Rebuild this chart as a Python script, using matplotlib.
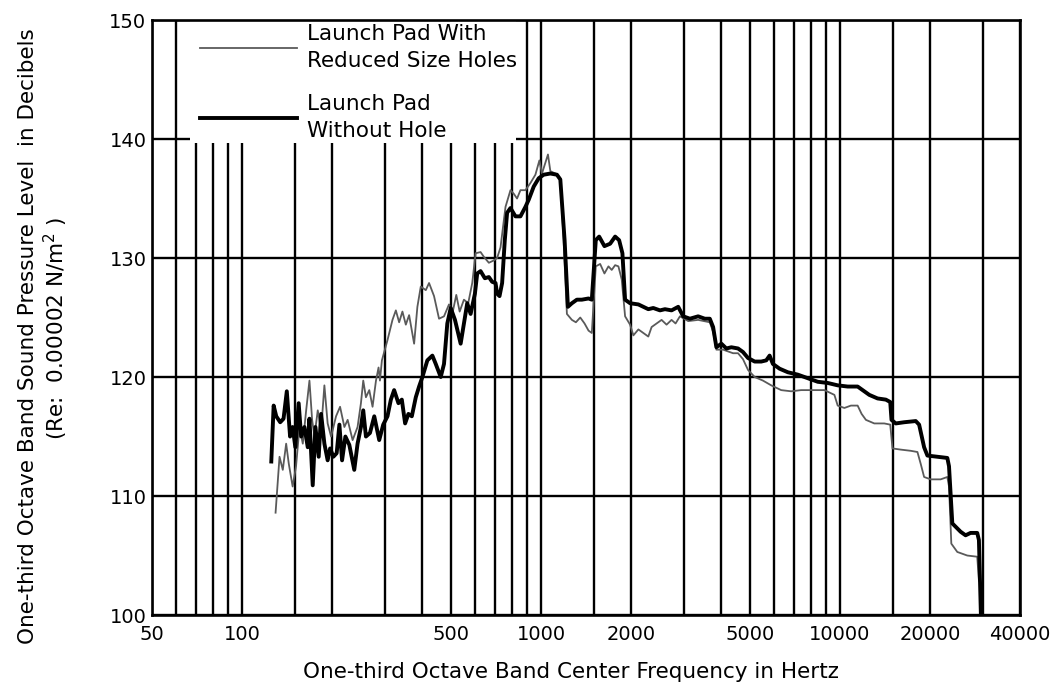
import matplotlib
matplotlib.use("Agg")
import matplotlib.pyplot as plt
from matplotlib.patches import Rectangle
from matplotlib.ticker import FixedLocator, FixedFormatter, NullLocator

# launch pad without hole (thick line): centre frequency in Hz, level in dB
freq_no_hole = [125.3, 127.6, 130.2, 134.2, 137.7, 141.2, 144.8, 147.7, 150.8, 154.7,
                157.7, 161.8, 165.9, 168.1, 172.4, 176.0, 180.5, 183.9, 188.6, 193.4,
                197.1, 202.1, 207.3, 211.7, 216.1, 221.7, 228.5, 237.4, 243.5, 249.9,
                254.4, 259.7, 267.9, 276.9, 287.7, 296.7, 306.6, 314.7, 322.7, 333.6,
                342.4, 351.2, 360.2, 369.8, 381.3, 391.1, 401.2, 416.8, 433.2, 444.6,
                462.0, 473.8, 486.0, 498.9, 515.6, 538.6, 552.4, 566.6, 581.6, 601.1,
                611.9, 627.9, 649.0, 669.3, 686.5, 704.6, 713.3, 726.6, 741.3, 756.7,
                770.3, 790.5, 821.5, 853.6, 887.1, 909.8, 945.4, 982.4, 1020.8, 1074.7,
                1130.6, 1160.4, 1199.4, 1230.2, 1268.6, 1318.2, 1369.8, 1442, 1479, 1525,
                1565, 1630, 1703, 1770, 1825, 1872, 1911, 1986, 2117, 2200,
                2285, 2374, 2500, 2598, 2733, 2877, 2990, 3148, 3354, 3531,
                3669, 3764, 3860, 4011, 4168, 4332, 4560, 4738, 4924, 5184,
                5454, 5667, 5816, 5965, 6280, 6693, 7227, 7804, 8426, 9099,
                9825, 10608, 11455, 11903, 12530, 13355, 14234, 14723, 14870, 15369,
                16393, 17919, 18393, 19114, 19603, 21167, 22855, 23154, 23749, 25313,
                26303, 27333, 28774, 29151, 29600]
db_no_hole = [112.9, 117.6, 116.7, 116.2, 116.5, 118.8, 115.0, 115.8, 114.1, 117.8,
              115.0, 115.8, 114.1, 116.5, 110.9, 115.8, 113.3, 116.9, 114.4, 113.0,
              114.0, 113.3, 113.6, 116.0, 113.0, 115.0, 114.3, 112.2, 114.4, 115.8,
              117.2, 115.0, 115.3, 116.7, 114.7, 116.0, 116.7, 118.1, 118.9, 117.8,
              118.1, 116.1, 116.9, 116.7, 118.3, 119.2, 120.0, 121.4, 121.8, 121.1,
              120.0, 121.1, 124.5, 125.8, 124.8, 122.8, 124.5, 126.2, 125.3, 127.0,
              128.7, 128.9, 128.3, 128.4, 128.0, 127.9, 127.0, 126.8, 127.9, 131.5,
              133.8, 134.2, 133.5, 133.5, 134.3, 134.9, 136.0, 136.7, 137.0, 137.1,
              137.0, 136.6, 131.5, 125.9, 126.2, 126.5, 126.5, 126.6, 126.5, 131.5,
              131.8, 131.0, 131.2, 131.8, 131.5, 130.4, 126.5, 126.2, 126.1, 125.9,
              125.7, 125.8, 125.6, 125.7, 125.6, 125.9, 125.1, 124.9, 125.1, 124.9,
              124.9, 124.2, 122.5, 122.8, 122.4, 122.5, 122.4, 122.1, 121.6, 121.3,
              121.3, 121.4, 121.8, 121.1, 120.7, 120.4, 120.2, 119.9, 119.6, 119.5,
              119.3, 119.2, 119.2, 118.9, 118.5, 118.2, 118.1, 117.9, 116.4, 116.1,
              116.2, 116.3, 116.0, 114.1, 113.4, 113.3, 113.2, 112.5, 107.7, 107.0,
              106.7, 106.9, 106.9, 106.3, 100.0]

# launch pad with reduced size holes (thin line)
freq_reduced = [129.5, 133.5, 136.9, 140.5, 143.4, 147.7, 151.6, 155.7, 159.7, 163.9,
                168.1, 171.6, 174.7, 179.2, 183.9, 188.6, 193.4, 198.6, 206.3, 212.8,
                220.0, 225.6, 234.4, 243.5, 249.9, 254.4, 259.7, 266.5, 273.3, 280.6,
                286.2, 289.3, 293.7, 306.6, 318.6, 327.0, 335.4, 344.0, 353.1, 362.2,
                376.4, 386.0, 396.2, 411.8, 422.3, 438.8, 456.0, 473.8, 492.4, 505.1,
                520.8, 534.5, 552.4, 570.9, 588.9, 604.4, 627.9, 644.0, 669.3, 695.5,
                713.3, 732.2, 760.9, 790.5, 810.8, 831.6, 853.6, 887.1, 921.7, 957.8,
                987.7, 1007.6, 1034.3, 1055.1, 1074.7, 1116.8, 1160.4, 1190.2, 1220.8, 1268.6,
                1308.2, 1353.0, 1398.4, 1442, 1479, 1525, 1577, 1630, 1681, 1724,
                1770, 1815, 1862, 1911, 1986, 2037, 2117, 2200, 2285, 2344,
                2435, 2531, 2630, 2733, 2819, 2915, 3107, 3354, 3669, 3764,
                3860, 4064, 4388, 4560, 4738, 4924, 5184, 5525, 5889, 6358,
                6865, 7413, 8005, 8871, 9579, 9825, 10344, 10881, 11455, 11812,
                12209, 13021, 14060, 14723, 14984, 15971, 17245, 18155, 18622, 19114,
                20107, 21711, 22855, 23154, 23568, 24679, 26648, 28774, 29151]
db_reduced = [108.6, 113.3, 112.2, 114.4, 112.7, 110.8, 112.5, 115.8, 114.4, 117.2,
              119.7, 116.4, 115.0, 117.2, 115.5, 119.3, 116.1, 115.0, 116.7, 117.5,
              115.8, 116.4, 114.7, 115.8, 117.8, 119.7, 118.3, 118.9, 117.5, 119.7,
              120.8, 119.7, 121.4, 123.1, 124.8, 125.6, 124.6, 125.5, 124.4, 125.2,
              122.8, 125.9, 127.6, 127.3, 127.9, 126.8, 124.9, 125.1, 126.1, 125.3,
              126.9, 125.5, 126.5, 126.2, 127.9, 130.4, 130.5, 130.1, 129.6, 129.8,
              130.0, 130.9, 134.3, 135.7, 135.4, 135.0, 135.7, 135.7, 136.3, 137.0,
              138.2, 137.1, 138.0, 138.7, 137.3, 137.1, 136.7, 131.5, 125.3, 124.8,
              124.6, 125.0, 124.5, 123.9, 123.7, 129.3, 129.5, 128.7, 129.3, 129.0,
              129.4, 129.3, 128.2, 125.1, 124.4, 123.5, 124.0, 123.7, 123.4, 124.2,
              124.5, 124.8, 124.4, 124.8, 124.5, 125.1, 124.7, 124.8, 124.6, 123.8,
              122.3, 122.3, 122.0, 122.0, 121.5, 120.6, 120.0, 119.7, 119.3, 118.9,
              118.8, 118.9, 118.9, 118.9, 118.5, 117.6, 117.4, 117.6, 117.6, 116.9,
              116.4, 116.1, 116.1, 116.0, 114.0, 113.9, 113.8, 113.7, 112.7, 111.6,
              111.4, 111.4, 111.6, 110.8, 106.0, 105.3, 105.0, 104.9, 102.9]

grid_freqs = [60, 70, 80, 90, 100, 150, 200, 300, 400, 500, 600, 700, 800, 900,
              1000, 1500, 2000, 3000, 4000, 5000, 6000, 7000, 8000, 9000, 10000,
              15000, 20000, 30000]
labelled_freqs = [50, 100, 500, 1000, 2000, 5000, 10000, 20000, 40000]
y_ticks = [100, 110, 120, 130, 140, 150]

plt.rcParams['font.family'] = ['DejaVu Sans']

fig = plt.figure(figsize=(10.57, 6.97), dpi=100)
ax = fig.add_axes([0.1438, 0.1176, 0.8212, 0.8537])

ax.set_xscale('log')
ax.set_xlim(50, 40000)
ax.set_ylim(100, 150)

ticks = sorted(set(grid_freqs + labelled_freqs))
labels = [str(t) if t in labelled_freqs else '' for t in ticks]
ax.xaxis.set_major_locator(FixedLocator(ticks))
ax.xaxis.set_major_formatter(FixedFormatter(labels))
ax.xaxis.set_minor_locator(NullLocator())
ax.set_yticks(y_ticks)
ax.tick_params(length=0, labelsize=14)
ax.tick_params(axis='x', pad=7)
ax.tick_params(axis='y', pad=4)

ax.grid(True, color='black', linewidth=1.7)
for s in ax.spines.values():
    s.set_linewidth(1.9)

# blank box under the legend
ax.add_patch(Rectangle((67, 139.7), 825 - 67, 10.3, facecolor='white',
                       edgecolor='none', zorder=1.8))

ax.plot(freq_reduced, db_reduced, color='#5a5a5a', linewidth=1.3, zorder=3,
        label='Launch Pad With\nReduced Size Holes')
ax.plot(freq_no_hole, db_no_hole, color='black', linewidth=2.8, zorder=4,
        label='Launch Pad\nWithout Hole')

leg = ax.legend(loc='upper left', bbox_to_anchor=(0.055, 0.993), frameon=False,
                fontsize=15.5, handlelength=4.5, handletextpad=0.5,
                labelspacing=1.1, borderpad=0, borderaxespad=0)
for t in leg.get_texts():
    t.set_linespacing(1.4)
leg.set_zorder(5)

fig.text(571 / 1057, 1 - 672 / 697,
         'One-third Octave Band Center Frequency in Hertz',
         ha='center', va='center', fontsize=15.5)
fig.text(28 / 1057, 1 - 336 / 697,
         'One-third Octave Band Sound Pressure Level  in Decibels',
         rotation=90, ha='center', va='center', fontsize=15.5)
fig.text(56 / 1057, 1 - 328 / 697, '(Re:  0.00002 N/m$^2$ )',
         rotation=90, ha='center', va='center', fontsize=15.5)

fig.savefig('out.png', dpi=100)
